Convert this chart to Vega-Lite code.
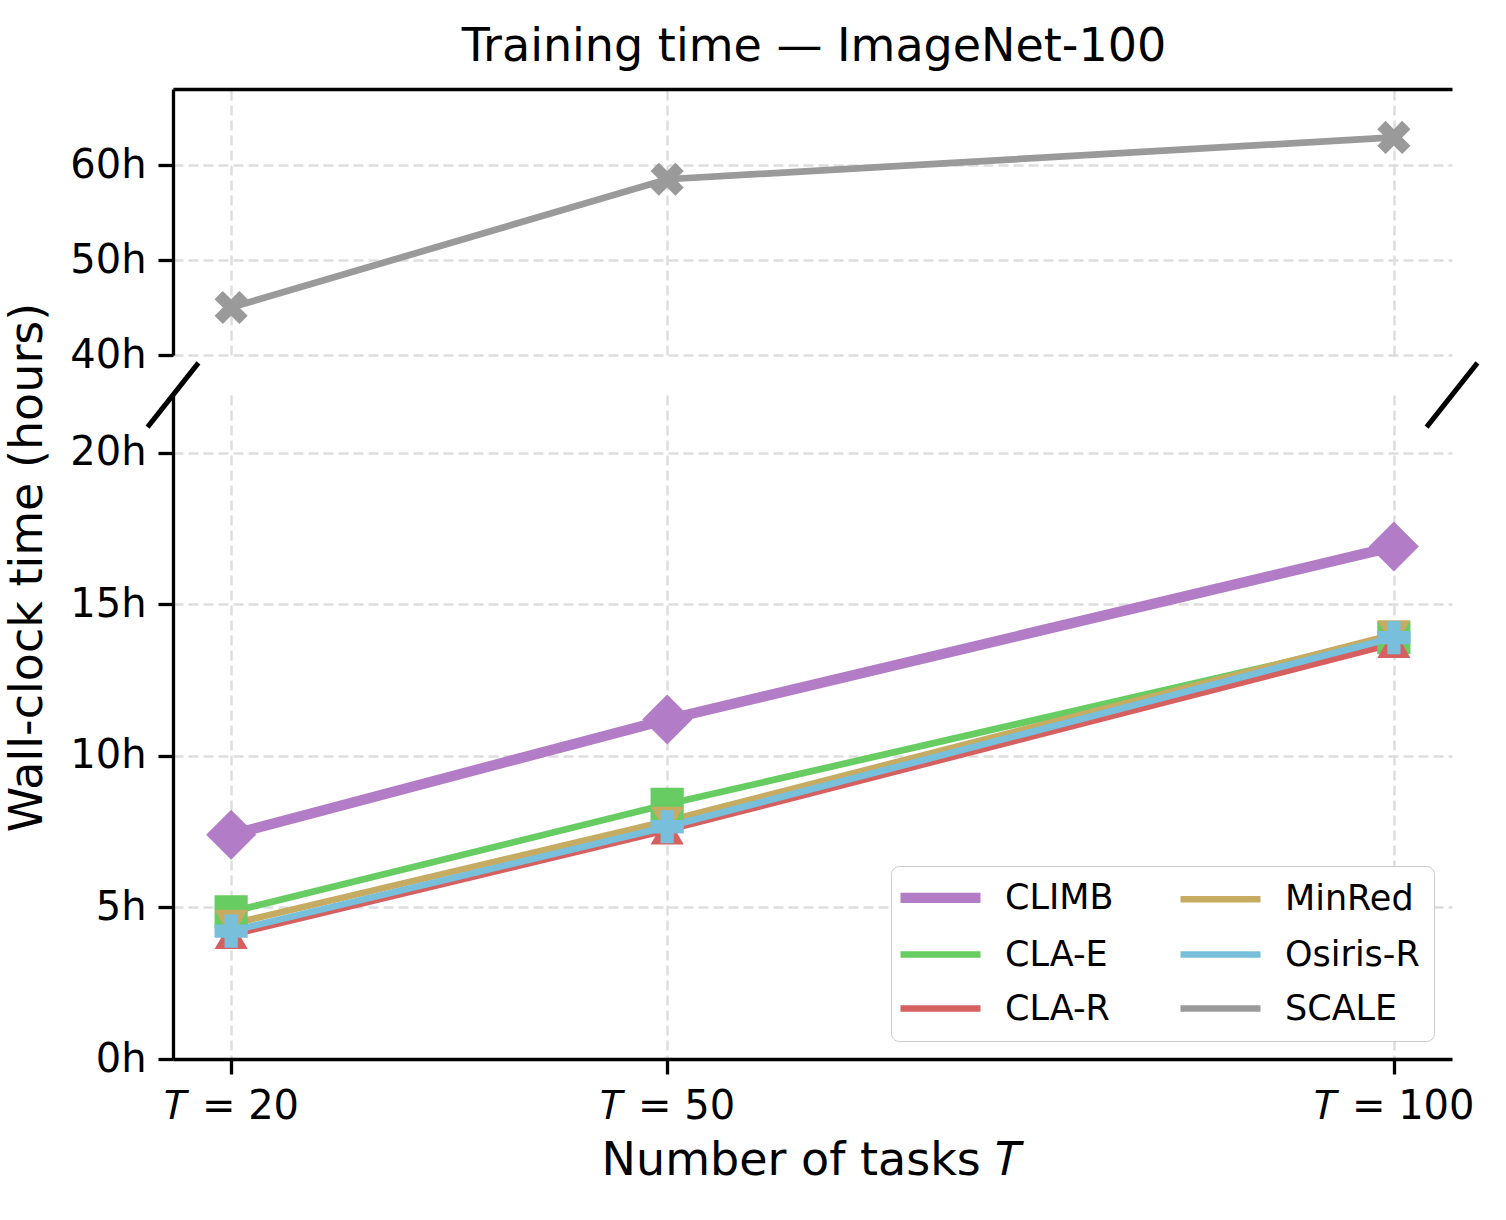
{
  "$schema": "https://vega.github.io/schema/vega-lite/v6.json",
  "padding": {"left": 3, "top": 24, "right": 12, "bottom": 10},
  "title": {
    "text": "Training time — ImageNet-100",
    "fontSize": 46,
    "fontWeight": "normal",
    "color": "black",
    "anchor": "middle",
    "offset": 18,
    "dx": 72
  },
  "datasets": {
    "runs": [
      {"method": "CLIMB", "T": 20, "hours": 7.4},
      {"method": "CLIMB", "T": 50, "hours": 11.2},
      {"method": "CLIMB", "T": 100, "hours": 16.9},
      {"method": "CLA-E", "T": 20, "hours": 4.85},
      {"method": "CLA-E", "T": 50, "hours": 8.4},
      {"method": "CLA-E", "T": 100, "hours": 13.9},
      {"method": "CLA-R", "T": 20, "hours": 4.1},
      {"method": "CLA-R", "T": 50, "hours": 7.55},
      {"method": "CLA-R", "T": 100, "hours": 13.7},
      {"method": "MinRed", "T": 20, "hours": 4.45},
      {"method": "MinRed", "T": 50, "hours": 7.85},
      {"method": "MinRed", "T": 100, "hours": 14.0},
      {"method": "Osiris-R", "T": 20, "hours": 4.22},
      {"method": "Osiris-R", "T": 50, "hours": 7.66},
      {"method": "Osiris-R", "T": 100, "hours": 13.9},
      {"method": "SCALE", "T": 20, "hours": 45.0},
      {"method": "SCALE", "T": 50, "hours": 58.5},
      {"method": "SCALE", "T": 100, "hours": 62.9}
    ],
    "breaks": [
      {"T": 14.25, "hours": 20.84, "T2": 17.75, "hours2": 22.96},
      {"T": 102.25, "hours": 20.84, "T2": 105.75, "hours2": 22.96}
    ]
  },
  "bounds": "flush",
  "spacing": 40,
  "resolve": {"legend": {"color": "independent"}},
  "vconcat": [
    {
      "width": 1279,
      "height": 266,
      "layer": [
        {
          "data": {"name": "runs"},
          "transform": [{"filter": "datum.method === 'SCALE'"}],
          "mark": {"type": "line", "clip": true},
          "encoding": {
            "x": {
              "field": "T", "type": "quantitative",
              "scale": {"domain": [16, 104], "nice": false, "zero": false},
              "axis": {"orient": "top", "values": [20, 50, 100], "labels": false, "ticks": false, "domain": true, "grid": true, "title": null}
            },
            "y": {
              "field": "hours", "type": "quantitative",
              "scale": {"domain": [40, 68], "nice": false, "zero": false},
              "axis": {"values": [40, 50, 60], "labelExpr": "datum.value + 'h'", "grid": true, "title": null}
            },
            "color": {"field": "method", "type": "nominal", "legend": null},
            "strokeWidth": {"condition": {"test": "datum.method === 'CLIMB'", "value": 10.4}, "value": 6.7}
          }
        },
        {
          "data": {"name": "runs"},
          "transform": [{"filter": "datum.method === 'SCALE'"}],
          "mark": {"type": "point", "filled": true, "opacity": 1, "clip": true},
          "encoding": {
            "x": {"field": "T", "type": "quantitative"},
            "y": {"field": "hours", "type": "quantitative"},
            "color": {"field": "method", "type": "nominal", "legend": null},
            "shape": {"field": "method", "type": "nominal", "legend": null},
            "size": {"condition": {"test": "datum.method === 'CLIMB'", "value": 2500}, "value": 1100}
          }
        },
        {
          "mark": {"type": "rule", "color": "black", "strokeWidth": 3.3},
          "encoding": {"x": {"datum": 104}}
        }
      ]
    },
    {
      "width": 1279,
      "height": 664,
      "layer": [
        {
          "data": {"name": "runs"},
          "transform": [{"filter": "datum.method !== 'SCALE'"}],
          "mark": {"type": "line", "clip": true},
          "encoding": {
            "x": {
              "field": "T", "type": "quantitative",
              "scale": {"domain": [16, 104], "nice": false, "zero": false},
              "axis": {"values": [20, 50, 100], "labelExpr": "'𝑇 = ' + datum.value", "grid": true, "title": "Number of tasks 𝑇", "titlePadding": 12}
            },
            "y": {
              "field": "hours", "type": "quantitative",
              "scale": {"domain": [0, 21.9], "nice": false, "zero": false},
              "axis": {"values": [0, 5, 10, 15, 20], "labelExpr": "datum.value + 'h'", "grid": true,
                       "title": "Wall-clock time (hours)", "titleX": -146, "titleY": 172, "titleAngle": -90, "titleAlign": "center", "titleBaseline": "middle"}
            },
            "color": {
              "field": "method", "type": "nominal",
              "scale": {
                "domain": ["CLIMB", "CLA-E", "CLA-R", "MinRed", "Osiris-R", "SCALE"],
                "range": ["#b27cc6", "#67cc62", "#d65f5f", "#c6ab63", "#78bfdb", "#9a9a9a"]
              },
              "legend": {
                "title": null,
                "orient": "bottom-right",
                "offset": 18,
                "columns": 2,
                "symbolType": "stroke",
                "symbolSize": 6400,
                "symbolStrokeWidth": 6.7,
                "symbolOffset": 18,
                "labelFontSize": 35,
                "labelColor": "black",
                "labelOffset": 47,
                "columnPadding": 53,
                "rowPadding": 18,
                "padding": 14,
                "strokeColor": "#cccccc",
                "fillColor": "white",
                "cornerRadius": 8,
                "encode": {
                  "symbols": {"update": {"strokeWidth": {"signal": "datum.value === 'CLIMB' ? 10.4 : 6.7"}}}
                }
              }
            },
            "strokeWidth": {"condition": {"test": "datum.method === 'CLIMB'", "value": 10.4}, "value": 6.7}
          }
        },
        {
          "data": {"name": "runs"},
          "transform": [{"filter": "datum.method !== 'SCALE'"}],
          "mark": {"type": "point", "filled": true, "opacity": 1, "clip": true},
          "encoding": {
            "x": {"field": "T", "type": "quantitative"},
            "y": {"field": "hours", "type": "quantitative"},
            "color": {"field": "method", "type": "nominal"},
            "shape": {
              "field": "method", "type": "nominal",
              "scale": {
                "domain": ["CLIMB", "CLA-E", "CLA-R", "MinRed", "Osiris-R", "SCALE"],
                "range": ["diamond", "square", "triangle-up", "triangle-down", "cross",
                          "M-1,-0.5L-0.5,-1L0,-0.5L0.5,-1L1,-0.5L0.5,0L1,0.5L0.5,1L0,0.5L-0.5,1L-1,0.5L-0.5,0Z"]
              },
              "legend": null
            },
            "size": {"condition": {"test": "datum.method === 'CLIMB'", "value": 2500}, "value": 1100}
          }
        },
        {
          "mark": {"type": "rule", "color": "black", "strokeWidth": 3.3},
          "encoding": {"x": {"datum": 104}}
        },
        {
          "data": {"name": "breaks"},
          "mark": {"type": "rule", "color": "black", "strokeWidth": 5, "clip": false},
          "encoding": {
            "x": {"field": "T", "type": "quantitative"},
            "x2": {"field": "T2"},
            "y": {"field": "hours", "type": "quantitative"},
            "y2": {"field": "hours2"}
          }
        }
      ]
    }
  ],
  "config": {
    "font": "DejaVu Sans",
    "view": {"stroke": null},
    "axis": {
      "domainColor": "black",
      "domainWidth": 3.3,
      "tickColor": "black",
      "tickWidth": 3.3,
      "tickSize": 15,
      "labelFontSize": 40,
      "labelColor": "black",
      "labelPadding": 12,
      "titleFontSize": 46,
      "titleFontWeight": "normal",
      "titleColor": "black",
      "gridColor": "#dedede",
      "gridWidth": 2.5,
      "gridDash": [10, 5]
    }
  }
}
